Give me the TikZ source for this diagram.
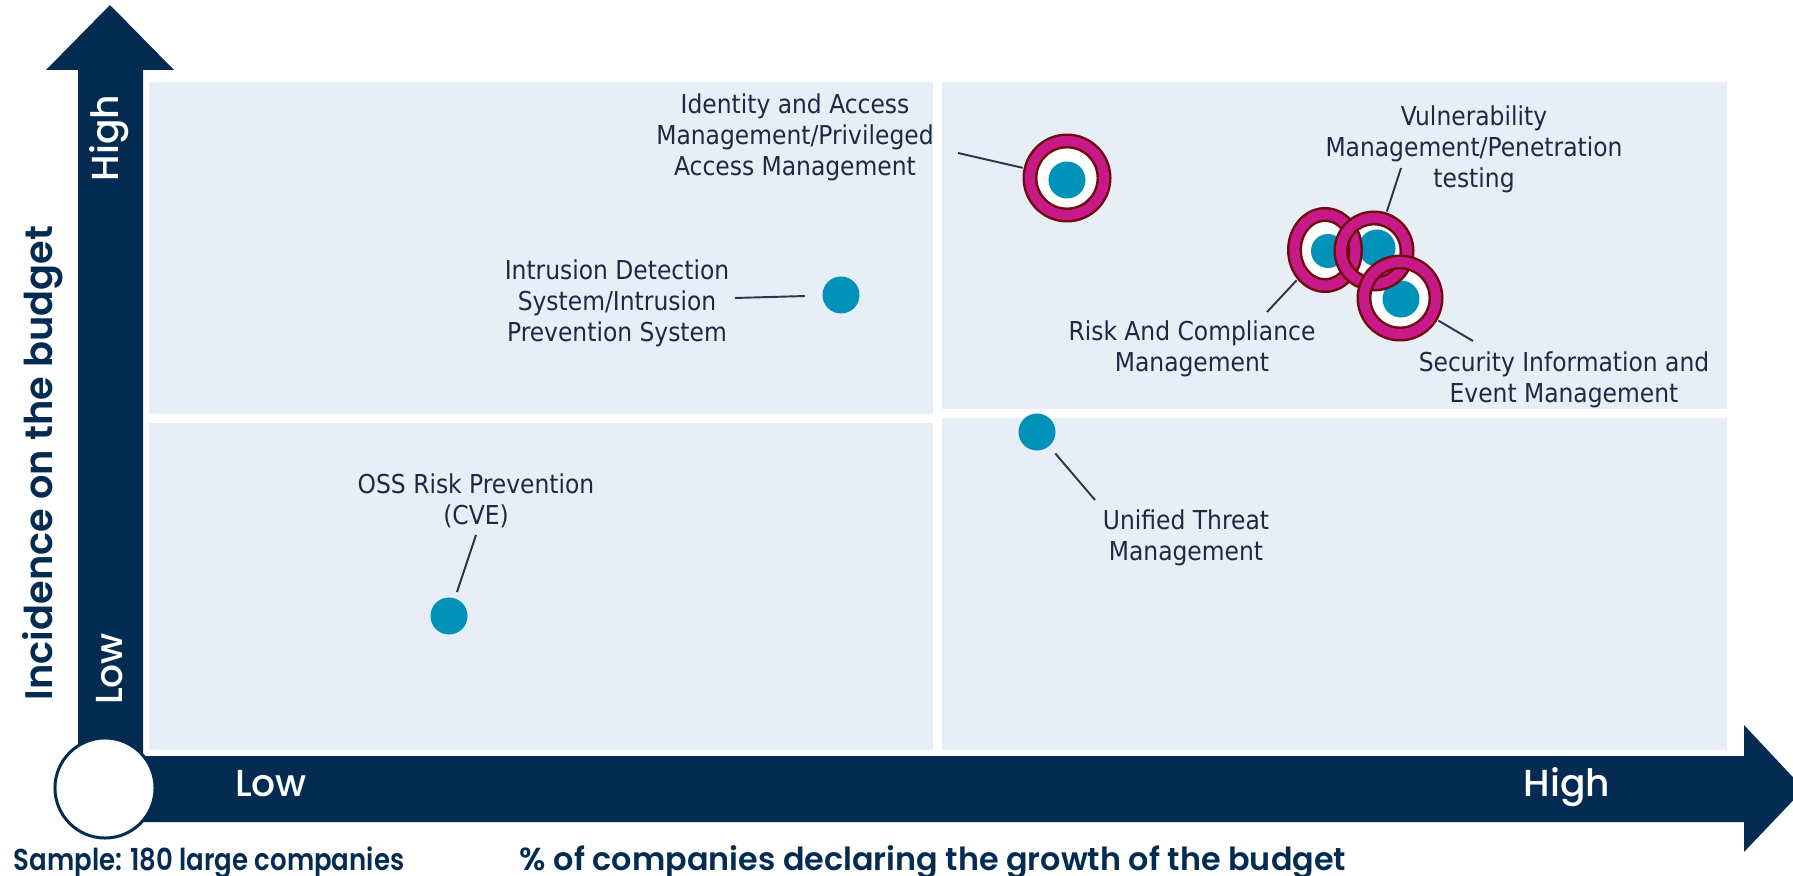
\documentclass[tikz,border=0pt]{standalone}
\usepackage{fontspec}
\usepackage{xcolor}
\usepackage{tikz}
\usetikzlibrary{shapes.geometric}
\usetikzlibrary{calc}

\newfontfamily\lblfont{DejaVu Sans Condensed}
\newfontfamily\axfont{Poppins Medium}
\newfontfamily\axbfont{Poppins SemiBold}
\newfontfamily\axcfont{Poppins SemiBold}[FakeStretch=0.86]

\definecolor{navy}{RGB}{4,44,82}
\definecolor{panelblue}{RGB}{232,238,246}
\definecolor{dotblue}{RGB}{0,146,185}
\definecolor{ringpink}{RGB}{199,26,136}
\definecolor{ringedge}{RGB}{112,12,12}
\definecolor{labelnavy}{RGB}{28,42,68}
\definecolor{leadergray}{RGB}{40,55,80}

\tikzset{
  panel/.style={fill=panelblue, draw=none},
  dot/.style={circle, fill=dotblue, inner sep=0pt, minimum size=0.37cm},
  hole/.style={fill=white, inner sep=0pt},
  ring/.style={inner sep=0pt, draw=ringedge, line width=0.7pt, double=ringpink, double distance=2.85pt, outer sep=0.085cm},
  leader/.style={draw=leadergray, line width=0.55pt},
  lbl/.style={font=\lblfont\fontsize{7.4}{8.8}\selectfont, text=labelnavy, align=center, inner sep=0pt},
  axlbl/.style={font=\axfont\fontsize{10.7}{12}\selectfont, text=white, inner sep=0pt},
  axtitle/.style={font=\axbfont\fontsize{9.05}{10}\selectfont, text=navy, inner sep=0pt},
}

\begin{document}
\begin{tikzpicture}[x=0.01cm, y=-0.01cm]
      \useasboundingbox (0,0) rectangle (1793,876);

      \foreach \xa/\ya/\xb/\yb in {149/82/933/414, 942/82/1727/409, 149/423/933/750, 942/418/1727/750}{
        \fill[panel] (\xa,\ya) rectangle (\xb,\yb);
      }

      \fill[navy] (78,788) -- (78,70) -- (46,70) -- (110,5) -- (174,70) -- (143,70) -- (143,788) -- cycle;
      \fill[navy] (105,756) -- (1744,756) -- (1744,725) -- (1804,789) -- (1744,852) -- (1744,822) -- (105,822) -- cycle;
      \node[circle, fill=white, draw=navy, line width=0.85pt, minimum size=1.0cm, inner sep=0pt] (origin) at (105,788) {};

      \node[axlbl, rotate=90] (yhigh) at (109,138) {High};
      \node[axlbl, rotate=90] (ylow) at (110,669) {Low};
      \node[axlbl] (xlow) at (271,784) {Low};
      \node[axlbl] (xhigh) at (1567,787) {High};
      \node[axtitle, font=\axbfont\fontsize{10.9}{12}\selectfont, rotate=90] (ytitle) at (43,463) {Incidence on the budget};
      \node[axtitle, font=\axcfont\fontsize{8.6}{10}\selectfont, anchor=base west] (sample) at (13,870) {Sample: 180 large companies};
      \node[axtitle, anchor=base] (xtitle) at (933,870) {\% of companies declaring the growth of the budget};

      \foreach \n/\x/\y in {ids/841/295, oss/449/616, utm/1037/432}{
        \node[dot] (\n) at (\x,\y) {};
      }

      \coordinate (iam) at (1067,178);
      \coordinate (risk) at (1325,250);
      \coordinate (vuln) at (1374,251);
      \coordinate (siem) at (1400,298);
      \node[hole, circle, minimum size=0.6cm] at (iam) {};
      \node[hole, ellipse, minimum width=0.48cm, minimum height=0.58cm] at (risk) {};
      \node[hole, circle, minimum size=0.52cm] at (vuln) {};
      \node[hole, circle, minimum size=0.58cm] at (siem) {};
      \node[dot] (iamdot) at (1067,180) {};
      \node[dot, minimum size=0.34cm] (riskdot) at (1328,251) {};
      \node[dot] (vulndot) at (1377,248) {};
      \node[dot] (siemdot) at (1401,299) {};
      \node[ring, circle, minimum size=0.74cm] (iamring) at (iam) {};
      \node[ring, ellipse, minimum width=0.61cm, minimum height=0.71cm] (riskring) at (risk) {};
      \node[ring, circle, minimum size=0.66cm] (vulnring) at (vuln) {};
      \node[ring, circle, minimum size=0.72cm] (siemring) at (siem) {};

      \node[lbl] (iamlbl) at (795,137) {Identity and Access\\Management/Privileged\\Access Management};
      \node[lbl] (idslbl) at (617,303) {Intrusion Detection\\System/Intrusion\\Prevention System};
      \node[lbl] (osslbl) at (476,501) {OSS Risk Prevention\\(CVE)};
      \node[lbl] (utmlbl) at (1186,538) {Unified Threat\\Management};
      \node[lbl] (risklbl) at (1192,349) {Risk And Compliance\\Management};
      \node[lbl] (vulnlbl) at (1474,149) {Vulnerability\\Management/Penetration\\testing};
      \node[lbl] (siemlbl) at (1564,380) {Security Information and\\Event Management};

      \coordinate (iamlead) at (958,153);
      \coordinate (idslead) at (735,298);
      \coordinate (osslead) at (476,535);
      \coordinate (utmlead) at (1095,500);
      \coordinate (risklead) at (1267,312);
      \coordinate (vulnlead) at (1401,168);
      \coordinate (siemlead) at (1473,341);
      \draw[leader] (iamlead) -- (iamring);
      \draw[leader, shorten >=0.17cm] (idslead) -- (ids);
      \draw[leader, shorten >=0.06cm] (osslead) -- (oss);
      \draw[leader, shorten <=0.09cm] (utm) -- (utmlead);
      \draw[leader] (risklead) -- (riskring);
      \draw[leader] (vulnlead) -- (vulnring);
      \draw[leader] (siemlead) -- (siemring);

    \end{tikzpicture}
\end{document}
